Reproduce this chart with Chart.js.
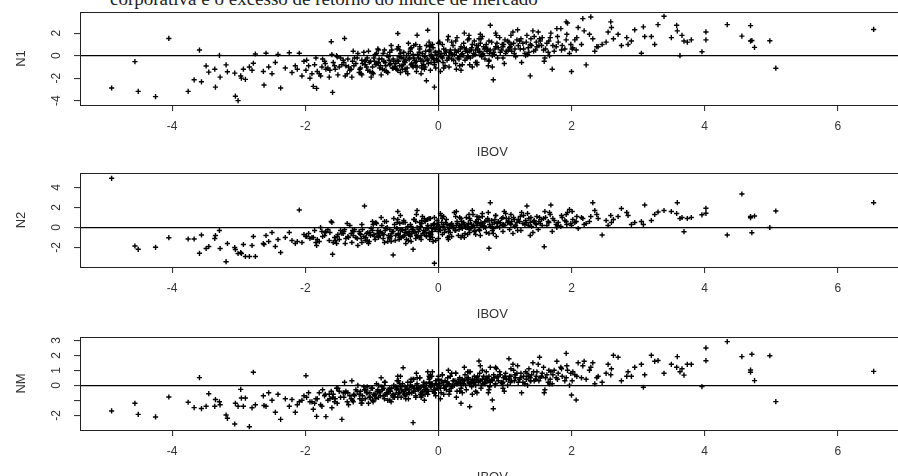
<!DOCTYPE html>
<html>
<head>
<meta charset="utf-8">
<script src="https://cdn.jsdelivr.net/npm/chart.js"></script>
<style>
html, body { margin: 0; padding: 0; background: #fff; overflow: hidden; width: 898px; height: 476px; }
.panel { position: absolute; left: 0; }
#caption { position: absolute; left: 110px; top: -11px; font-size: 19px; line-height: 19px;
  font-family: "Liberation Serif", "DejaVu Serif", serif; color: #222; white-space: nowrap; }
</style>
</head>
<body>
<div id="caption">corporativa e o excesso de retorno do índice de mercado</div>
<canvas id="p1" class="panel" width="910" height="160" style="top:0px"></canvas>
<canvas id="p2" class="panel" width="910" height="162" style="top:160px"></canvas>
<canvas id="p3" class="panel" width="910" height="163" style="top:322px"></canvas>
<script>
// excess return of the market index (shared x of the three panels)
const ibov = [
  -4.91,-4.56,-4.51,-4.25,-4.05,-3.76,-3.67,-3.59,-3.56,-3.49,
  -3.45,-3.36,-3.35,-3.29,-3.28,-3.19,-3.17,-3.06,-3.05,-3.01,
  -2.97,-2.96,-2.9,-2.93,-2.84,-2.8,-2.78,-2.75,-2.62,-2.59,
  -2.63,-2.55,-2.5,-2.45,-2.41,-2.37,-2.3,-2.24,-2.2,-2.15,
  -2.09,-2.05,-1.99,-1.88,-1.83,-1.69,-1.59,-1.61,-1.45,-1.41,
  -1.11,-0.68,-0.61,-0.53,-0.38,-0.32,-0.16,-0.06,-0.18,0.78,
  0.76,0.825,0.47,0.34,0.81,0.61,1.06,1.38,1.33,1.52,
  1.59,1.69,1.71,1.92,1.94,2.0,2.07,2.17,2.29,2.22,
  2.32,2.46,2.59,2.63,2.7,2.83,2.9,3.05,3.08,3.1,
  3.2,3.25,3.3,3.39,3.5,3.58,3.59,3.63,3.66,3.69,
  3.74,3.8,3.96,4.02,4.02,4.34,4.56,4.69,4.71,4.69,
  4.75,4.98,5.07,6.54,
  // dense core
  -1.95,-1.82,-1.74,-1.66,-1.58,-1.51,-1.47,-1.39,-1.33,-1.28,
  -1.24,-1.19,-1.15,-1.12,-1.08,-1.04,-1.01,-0.97,-0.94,-0.91,
  -0.88,-0.85,-0.83,-0.8,-0.78,-0.75,-0.73,-0.7,-0.67,-0.65,
  -0.62,-0.6,-0.58,-0.56,-0.54,-0.52,-0.5,-0.48,-0.46,-0.44,
  -0.42,-0.4,-0.38,-0.36,-0.34,-0.32,-0.3,-0.28,-0.26,-0.24,
  -0.22,-0.2,-0.18,-0.16,-0.14,-0.12,-0.1,-0.08,-0.06,-0.04,
  -0.02,0.0,0.02,0.04,0.06,0.08,0.1,0.12,0.14,0.16,
  0.18,0.2,0.22,0.24,0.26,0.28,0.3,0.32,0.34,0.36,
  0.38,0.4,0.42,0.44,0.46,0.48,0.5,0.52,0.54,0.56,
  0.58,0.6,0.62,0.64,0.66,0.68,0.7,0.72,0.74,0.77,
  0.8,0.83,0.86,0.89,0.92,0.95,0.98,1.01,1.04,1.07,
  1.1,1.13,1.16,1.2,1.24,1.28,1.32,1.36,1.4,1.44,
  1.48,1.53,1.58,1.63,1.68,1.74,1.8,1.86,1.93,2.02,
  -1.9,-1.7,-1.55,-1.43,-1.35,-1.26,-1.17,-1.1,-1.03,-0.96,
  -0.9,-0.84,-0.79,-0.74,-0.69,-0.64,-0.59,-0.55,-0.51,-0.47,
  -0.43,-0.39,-0.35,-0.31,-0.27,-0.23,-0.19,-0.15,-0.11,-0.07,
  -0.03,0.01,0.05,0.09,0.13,0.17,0.21,0.25,0.29,0.33,
  0.37,0.41,0.45,0.49,0.53,0.57,0.61,0.65,0.69,0.73,
  0.78,0.84,0.9,0.96,1.02,1.08,1.15,1.22,1.3,1.38,
  1.46,1.55,1.65,1.77,1.9,2.05,2.15,2.27,2.4,2.52,
  -1.6,-1.3,-1.05,-0.86,-0.71,-0.57,-0.45,-0.33,-0.21,-0.09,
  0.03,0.15,0.27,0.39,0.51,0.63,0.75,0.87,0.99,1.12,
  1.25,1.42,1.6,1.78,1.97,2.1,2.35,2.55,2.75,2.95,
  -1.77,-1.53,-1.37,-1.21,-0.99,-0.81,-0.61,-0.41,-0.25,-0.13,
  -1.98,-1.86,-1.79,-1.71,-1.63,-1.56,-1.49,-1.42,-1.36,-1.31,
  -1.27,-1.22,-1.18,-1.14,-1.09,-1.06,-1.02,-0.99,-0.95,-0.92,
  -0.89,-0.87,-0.82,-0.77,-0.72,-0.68,-0.63,-0.6,-0.57,-0.53,
  -0.49,-0.45,-0.41,-0.37,-0.33,-0.29,-0.25,-0.21,-0.17,-0.13,
  -0.11,-0.09,-0.05,-0.01,0.03,0.07,0.11,0.15,0.19,0.23,
  0.27,0.31,0.35,0.39,0.43,0.47,0.51,0.55,0.59,0.63,
  0.67,0.71,0.76,0.81,0.85,0.88,0.93,0.97,1.0,1.05,
  1.09,1.14,1.18,1.23,1.27,1.31,1.35,1.39,1.43,1.47,
  1.51,1.56,1.61,1.66,1.72,1.79,1.85,1.92,1.99,2.08,
  -1.15,-0.93,-0.76,-0.62,-0.49,-0.37,-0.26,-0.14,-0.04,0.06,
  0.16,0.26,0.36,0.46,0.56,0.66,0.76,0.86,0.97,1.09,
  1.19,1.34,1.5,1.67,1.84,2.01,2.19,2.38,2.6,2.85,
  -2.12,-2.02,-1.93,-1.84,-1.75,-1.64,-1.52,-1.4,-1.29,-1.16,
  -1.07,-0.98,-0.9,-0.81,-0.73,-0.66,-0.58,-0.5,-0.42,-0.34,
  -0.28,-0.2,-0.12,-0.06,0.0,0.08,0.2,0.32,0.44,0.58
];

// excess return, level N1
const n1 = [
  -2.87,-0.53,-3.17,-3.64,1.53,-3.17,-2.14,0.5,-2.32,-0.91,
  -1.46,-1.2,-2.79,0.03,-1.9,-0.82,-1.43,-1.55,-3.6,-3.99,
  -1.8,-1.99,-2.1,-1.2,-1.0,-1.3,-0.67,0.15,-2.61,0.21,
  -1.4,-1.0,-1.6,-0.6,0.12,-2.87,-1.1,0.26,-1.5,-0.9,
  0.21,-1.8,-1.3,-2.73,-2.9,-1.2,-3.26,1.24,-0.8,1.53,
  -0.5,-1.1,1.97,-0.2,-1.0,1.82,2.26,-2.79,-2.22,2.7,
  -0.5,-2.14,-0.8,-1.3,-1.0,1.5,1.2,-1.79,1.8,1.5,
  -0.5,2.0,-1.2,3.0,2.9,-1.41,0.5,3.29,3.44,-0.82,
  1.5,1.0,3.0,1.5,1.9,1.6,1.3,0.21,2.56,1.7,
  1.7,1.0,2.76,3.5,1.6,2.7,2.2,0.0,1.8,1.3,
  1.2,1.4,0.35,2.11,1.4,2.76,1.74,2.67,1.35,1.3,
  0.74,1.32,-1.11,2.33,
  -0.9,-1.4,-0.3,-1.1,-0.6,-1.7,-0.2,-0.9,-1.3,0.4,
  -0.7,-1.5,-0.4,0.3,-1.0,-0.6,-1.9,-0.2,-0.8,0.6,
  -1.1,-0.3,0.2,-0.6,-1.4,-0.1,-0.8,0.5,-0.5,-1.0,
  -0.4,0.8,-0.9,-0.2,-1.2,0.3,-0.6,0.0,-1.6,-0.3,
  0.4,-0.7,0.1,-0.4,1.0,-1.0,-0.2,0.6,-0.5,0.2,
  -0.8,0.0,0.9,-0.3,0.4,-1.3,-0.1,0.7,-0.6,0.3,
  0.1,-0.5,1.2,0.2,-0.2,0.6,-0.9,0.3,1.4,0.0,
  0.5,-0.3,0.9,0.1,-0.7,1.6,0.4,-0.1,0.8,0.2,
  1.1,-0.4,0.6,0.3,1.8,-0.2,0.7,0.0,1.3,0.5,
  -0.6,0.9,0.4,1.5,0.1,0.8,-0.3,1.0,0.6,0.2,
  1.2,0.3,0.8,-0.2,1.6,0.5,1.0,0.2,1.3,0.7,
  0.4,1.1,-0.1,0.9,1.5,0.6,1.2,0.3,0.9,1.7,
  0.8,1.3,0.5,1.1,1.6,0.4,1.2,0.9,1.9,0.7,
  -1.6,-0.7,-1.2,-0.4,-1.0,-0.2,-1.1,-0.8,-1.4,-0.5,
  -0.6,-1.2,-0.9,-0.4,-1.1,-0.7,-0.1,-0.9,-0.5,-1.1,
  -0.2,-0.9,-0.6,0.1,-0.3,-0.5,0.4,-0.7,0.1,-0.3,
  -0.3,0.4,-0.1,0.2,-0.4,0.3,0.1,0.5,-0.2,0.6,
  0.0,0.4,-0.1,0.5,0.2,0.9,0.3,-0.1,0.6,0.4,
  0.5,0.1,0.7,1.0,0.4,0.8,0.6,1.3,0.2,1.0,
  0.5,0.9,0.3,0.8,0.6,1.4,1.0,1.9,0.8,1.2,
  0.1,-1.9,0.4,-1.7,0.9,-1.5,1.1,-1.4,-1.2,1.0,
  -1.4,1.7,-1.2,2.0,-1.0,1.9,-0.9,1.8,-0.7,2.1,
  -0.6,2.2,-0.2,2.4,0.2,2.5,0.4,2.1,0.9,2.3,
  -1.8,0.0,-1.6,0.2,-1.5,0.5,-1.3,0.7,-1.1,0.8,
  -0.4,-0.8,-1.6,-0.5,-1.3,-0.9,-1.0,-0.6,-0.3,-1.2,
  -0.9,-0.2,-1.2,-0.7,-0.4,-1.3,-0.5,-1.0,0.1,-0.7,
  -0.3,-0.9,-0.5,0.0,-0.7,-0.3,-1.2,-0.5,0.2,-0.8,
  -0.4,0.2,-0.8,-0.2,-0.5,0.3,-0.9,-0.1,-0.4,0.5,
  -0.6,-0.2,0.3,-0.4,0.0,-0.6,0.5,-0.2,0.2,-0.4,
  0.3,-0.3,0.1,0.7,-0.2,0.4,1.0,0.1,0.6,1.1,
  0.2,0.7,1.3,0.0,0.6,1.1,0.3,0.8,1.4,0.5,
  1.0,0.2,1.4,0.6,1.1,0.0,0.7,1.5,0.4,1.2,
  0.9,1.6,0.6,1.3,0.9,1.7,0.5,1.4,1.0,1.6,
  -1.7,0.2,-1.5,0.6,-1.4,0.9,-1.6,1.2,-1.1,1.0,
  -1.0,1.3,-0.8,1.5,-0.6,1.7,-0.4,2.0,-0.2,1.8,
  2.3,0.1,2.1,0.0,2.4,0.6,2.2,0.8,2.5,1.0,
  -1.2,-0.5,-2.0,-0.2,-1.0,-1.9,-0.1,-1.8,-0.5,-1.6,
  -0.2,-1.6,0.5,-1.3,0.3,-1.0,0.5,-1.2,0.6,-0.9,
  0.8,-1.0,0.9,-0.8,1.1,-1.1,1.2,-0.9,1.4,-0.8
];

// excess return, level N2
const n2 = [
  4.92,-1.85,-2.18,-1.98,-1.02,-1.15,-1.15,-2.58,-0.75,-2.1,
  -1.9,-1.1,-0.8,-0.3,-2.1,-3.42,-1.6,-2.0,-2.2,-2.6,
  -2.5,-2.6,-2.9,-1.7,-2.9,-1.8,-0.9,-2.9,-1.7,-0.8,
  -1.6,-1.4,-0.5,-1.9,-1.2,-2.5,-1.0,-0.5,-1.3,-1.6,
  1.75,-1.5,-0.9,-1.0,-1.8,-0.4,-2.68,0.6,-0.6,-0.2,
  2.15,-2.75,1.6,0.5,-2.18,1.7,0.8,-3.58,-0.8,2.48,
  -2.08,-0.6,-0.5,-1.0,-0.3,1.0,0.9,-0.8,2.15,1.0,
  -1.92,2.25,-0.4,1.3,1.5,0.2,0.6,0.9,1.1,0.4,
  2.48,-0.75,1.2,0.8,1.1,1.5,0.3,0.6,0.3,2.25,
  0.7,1.3,1.55,1.7,1.6,1.4,2.48,0.9,1.0,-0.42,
  0.9,1.0,1.27,1.92,1.42,-0.75,3.35,0.98,-0.52,1.1,
  1.15,0.0,1.65,2.48,
  -0.6,-1.2,-0.9,-0.2,-1.5,-0.7,-0.3,-1.1,0.2,-0.8,
  -1.0,-0.4,0.3,-0.9,-0.6,-1.4,-0.1,-0.7,0.5,-0.3,
  -0.5,0.2,-1.1,-0.3,0.6,-0.8,-0.2,-0.6,0.9,-1.3,
  -0.1,-0.7,0.4,-1.0,-0.3,0.7,-0.5,-1.2,0.1,-0.4,
  0.3,-0.6,-0.2,0.8,-1.1,0.0,-0.4,0.5,-0.8,1.1,
  -0.3,0.6,-0.9,0.2,-0.5,0.9,-0.1,-1.4,0.4,-0.2,
  0.7,-0.4,0.1,1.2,-0.7,0.3,-0.2,0.8,-1.0,0.2,
  -0.5,0.4,0.0,1.5,-0.3,0.6,-0.8,0.2,0.9,-0.1,
  0.5,-0.6,1.0,0.1,-0.2,0.7,0.3,1.3,-0.4,0.6,
  0.2,0.8,-0.3,0.5,1.1,0.0,0.6,-0.5,0.9,0.3,
  0.7,-0.1,1.2,0.4,0.0,0.9,0.3,1.4,0.5,-0.2,
  0.6,1.0,0.2,0.8,-0.3,1.2,0.5,0.9,0.1,0.7,
  1.1,0.4,0.9,0.2,1.3,0.7,0.5,1.0,0.3,0.8,
  -1.0,-0.5,-1.3,-0.6,-1.0,-0.2,-0.7,-1.3,-0.5,-0.9,
  -0.9,-0.6,-0.1,-1.0,-0.4,-0.8,-1.2,-0.2,-0.8,-0.6,
  -0.7,-0.2,-0.5,-0.9,0.1,-0.6,-0.3,0.0,-0.7,0.3,
  0.0,-0.2,0.5,-0.5,0.3,-0.1,0.2,-0.3,0.4,0.1,
  0.3,0.0,0.4,-0.1,0.2,0.5,-0.2,0.3,0.1,0.7,
  0.1,0.5,0.6,0.2,0.9,0.4,0.1,0.6,0.3,0.5,
  0.4,0.8,0.6,0.3,0.7,0.5,1.0,0.6,0.9,0.7,
  0.5,-1.5,-1.6,1.0,-1.4,1.2,-1.3,1.3,0.9,-1.0,
  1.4,-1.2,1.6,-1.0,1.7,-0.8,1.5,-0.9,1.6,-0.6,
  1.5,-0.5,1.6,0.0,1.8,-0.1,1.7,0.2,1.9,0.5,
  0.0,-1.6,0.4,-1.8,0.6,-1.5,0.8,-1.4,0.7,-1.2,
  -0.9,-0.3,-1.4,-0.8,-0.5,-1.0,-1.2,-0.4,-0.9,-0.6,
  -0.4,-1.1,-0.6,-0.2,-1.0,-0.5,-0.8,-0.3,-1.2,-0.6,
  -0.8,-0.4,-0.7,0.0,-0.9,-0.4,-0.1,-0.6,-0.3,-0.9,
  -0.2,-0.6,0.1,-0.4,-0.8,-0.2,0.4,-0.5,-0.1,-0.6,
  0.2,-0.4,-0.1,0.3,-0.3,0.1,0.5,-0.4,0.3,0.0,
  0.2,-0.2,0.6,0.3,0.0,0.9,0.1,-0.3,0.4,0.2,
  0.4,0.0,0.7,0.3,0.8,0.1,0.5,1.0,0.2,0.6,
  0.3,0.8,0.5,1.1,0.4,0.7,0.2,1.0,0.6,0.3,
  0.6,0.2,1.0,0.5,0.9,0.2,1.2,0.6,0.4,1.1,
  -1.5,0.4,-1.4,0.5,-1.6,0.8,-1.2,0.9,-1.3,0.9,
  -0.9,1.1,-0.8,1.3,-0.7,1.4,-0.6,1.2,-0.4,1.3,
  -0.3,1.4,-0.2,1.5,0.1,1.6,0.3,1.3,0.5,1.2,
  -1.4,-0.7,-1.1,-1.5,-0.4,-1.3,-0.9,-1.6,-0.3,-1.1,
  -1.3,0.3,-1.0,0.6,-1.1,0.3,-1.0,0.5,-0.9,0.6,
  -1.0,0.7,-0.9,1.0,-1.1,1.1,-0.9,1.0,-0.7,1.1
];

// excess return, Novo Mercado
const nm = [
  -1.71,-1.2,-1.94,-2.11,-0.78,-1.13,-1.49,0.51,-1.55,-1.4,
  -0.56,-1.4,-0.95,-1.1,-1.3,-1.98,-2.2,-2.58,-1.2,-1.4,
  -0.27,-0.85,-0.85,-1.4,-2.76,-1.5,0.87,-1.3,-1.35,-1.4,
  -0.7,-0.5,-1.0,-1.8,-0.6,-2.27,-0.9,-1.4,-0.95,-1.8,
  -1.1,-1.0,0.64,-1.6,-2.07,-2.09,-0.8,-0.4,-2.27,0.2,
  -0.3,-0.6,0.6,1.17,-2.49,0.5,0.9,-0.5,-0.4,1.2,
  0.3,-1.56,-1.43,-1.2,-0.98,1.62,1.77,0.3,0.8,1.87,
  -0.5,0.9,0.1,2.13,1.0,-0.65,-0.98,1.3,1.2,0.4,
  1.5,0.2,0.7,2.0,1.87,0.6,0.6,1.4,-0.13,0.7,
  2.0,1.6,1.65,0.8,1.4,1.2,1.91,0.9,1.1,0.68,
  1.4,1.4,-0.09,2.49,1.64,2.91,1.91,1.02,2.07,0.87,
  0.31,1.97,-1.09,0.93,
  -0.5,-0.9,-0.3,-1.0,-0.6,-0.2,-0.8,-0.4,-0.7,-1.1,
  -0.3,-0.6,-1.2,-0.1,-0.5,-0.8,-0.2,-0.6,-0.9,-0.3,
  -0.4,-0.1,-0.7,0.2,-0.5,-0.3,-1.0,-0.2,0.0,-0.6,
  -0.2,0.3,-0.5,-0.8,0.1,-0.4,-0.1,-0.6,0.2,-0.3,
  0.0,-0.5,0.4,-0.2,-0.7,0.1,-0.3,0.5,-0.1,-0.4,
  0.2,-0.3,0.1,-0.6,0.4,-0.1,0.6,-0.4,0.0,0.3,
  -0.2,0.4,0.1,-0.5,0.7,0.0,0.3,-0.3,0.5,0.1,
  0.6,-0.1,0.3,0.0,0.8,-0.4,0.2,0.5,-0.2,0.4,
  0.1,0.7,-0.3,0.4,0.2,0.9,-0.1,0.3,0.6,0.0,
  0.5,0.2,0.8,-0.2,0.4,0.6,0.1,0.9,0.3,-0.1,
  0.4,0.7,0.1,0.6,0.9,0.2,0.5,0.8,0.0,0.6,
  0.3,1.0,0.5,0.2,0.8,0.6,0.4,1.1,0.7,0.3,
  0.9,0.5,1.2,0.7,0.4,1.0,0.8,0.6,1.3,0.9,
  -1.1,-0.6,-0.9,-0.5,-1.3,-0.7,-0.4,-0.9,-0.5,-0.7,
  -0.8,-0.3,-0.6,-0.4,-0.7,-0.1,-0.5,-0.3,-0.6,-0.2,
  -0.5,-0.1,-0.4,-0.2,-0.6,0.0,-0.2,-0.4,0.1,-0.3,
  0.1,-0.1,0.3,-0.2,0.2,-0.4,0.0,0.3,0.1,0.2,
  0.3,0.0,0.5,0.2,0.1,0.4,0.3,0.0,0.2,0.5,
  0.2,0.5,0.3,0.1,0.4,0.2,0.7,0.4,0.1,0.5,
  0.4,0.6,0.2,0.5,0.3,0.7,0.5,1.0,0.6,0.8,
  -1.5,0.3,-1.2,0.5,-1.1,0.6,-0.9,0.8,-1.0,0.9,
  -0.9,1.0,-0.8,1.2,-0.6,1.3,-0.5,1.1,-0.4,1.4,
  -0.5,1.5,-0.3,1.6,0.0,1.5,0.1,1.4,0.3,1.2,
  -1.3,-0.2,-1.1,0.0,-1.0,0.2,-0.8,0.4,-0.7,0.5,
  -0.8,-1.2,-0.5,-0.7,-0.9,-1.1,-0.4,-0.8,-0.5,-0.9,
  -0.6,-0.4,-0.9,-0.7,-0.3,-0.5,-0.8,-0.2,-0.6,-0.4,
  -0.5,-0.7,-0.2,-0.6,-0.4,-0.8,-0.3,-0.5,-0.1,-0.4,
  -0.3,-0.5,-0.1,-0.4,0.0,-0.2,-0.5,-0.1,-0.3,0.2,
  -0.1,0.1,-0.3,0.0,-0.2,0.2,-0.1,0.1,-0.2,0.3,
  0.1,0.4,0.0,0.3,0.5,0.1,0.4,0.2,0.6,0.3,
  0.1,0.4,0.6,0.3,0.0,0.5,0.7,0.2,0.6,0.4,
  0.6,0.3,0.8,0.5,0.2,0.9,0.6,0.3,0.9,0.6,
  0.3,0.8,0.5,1.0,0.7,0.4,1.1,0.5,0.8,0.6,
  -1.0,0.1,-1.0,0.3,-0.9,0.4,-0.8,0.6,-0.7,0.7,
  -0.6,0.8,-0.5,0.9,-0.4,1.0,-0.3,1.2,-0.2,1.1,
  1.3,0.0,1.4,0.1,1.2,0.3,1.6,0.5,1.1,0.9,
  -1.3,-0.7,-1.1,-0.9,-1.4,-0.6,-1.2,-0.5,-1.0,-1.2,
  -0.1,-1.1,0.0,-0.9,-0.2,-0.8,0.1,-0.7,0.2,-0.8,
  0.5,-0.6,0.7,-0.5,0.6,-0.6,0.8,-0.4,0.9,-0.5
];

// axes
const xTicks = [-4, -2, 0, 2, 4, 6];
const n1Ticks = [-4, -2, 0, 2];
const n2Ticks = [-2, 0, 2, 4];
const nmTicks = [-2, -1, 0, 1, 2, 3];
const nmTickLabels = ['-2', '', '0', '1', '2', '3'];

const FONT = '"Liberation Sans", Arial, Helvetica, sans-serif';
const INK = '#333';

// R-like box and rotated y tick labels
const rFrame = {
  id: 'rFrame',
  afterDraw(chart, args, opts) {
    const {ctx, chartArea: a} = chart;
    const y = chart.scales.y;
    ctx.save();
    ctx.strokeStyle = '#222';
    ctx.lineWidth = 1;
    ctx.strokeRect(Math.round(a.left) + 0.5, Math.round(a.top) + 0.5, a.right - a.left, a.bottom - a.top);
    ctx.fillStyle = INK;
    ctx.font = '12px ' + FONT;
    ctx.textAlign = 'center';
    ctx.textBaseline = 'middle';
    y.ticks.forEach((t, i) => {
      const lbl = opts.labels[i];
      if (!lbl) return;
      ctx.save();
      ctx.translate(a.left - 23, y.getPixelForValue(t.value));
      ctx.rotate(-Math.PI / 2);
      ctx.fillText(lbl, 0, 0);
      ctx.restore();
    });
    ctx.restore();
  }
};

const zeroGrid = c => (c.tick && c.tick.value === 0) ? '#000' : 'rgba(0,0,0,0)';

function makePanel(id, name, values, yMin, yMax, ticks, labels, padTop) {
  const pts = ibov.map((x, i) => ({x: x, y: values[i]}));
  new Chart(document.getElementById(id), {
    type: 'scatter',
    data: {
      datasets: [{
        data: pts,
        pointStyle: 'cross',
        radius: 2.6,
        borderWidth: 1.4,
        borderColor: '#000',
        backgroundColor: '#000'
      }]
    },
    options: {
      responsive: false,
      animation: false,
      events: [],
      layout: {padding: {top: padTop, right: 4, left: 0, bottom: 0}},
      plugins: {
        legend: {display: false},
        tooltip: {enabled: false},
        rFrame: {labels: labels}
      },
      scales: {
        x: {
          type: 'linear', min: -5.385, max: 7.005,
          afterBuildTicks: s => { s.ticks = xTicks.map(v => ({value: v})) },
          afterFit: s => { s.height = 55 },
          border: {display: false},
          grid: {color: zeroGrid, lineWidth: 1.2, tickColor: '#222', tickWidth: 1, tickLength: 6},
          ticks: {color: INK, font: {family: FONT, size: 12}, padding: 8, maxRotation: 0, autoSkip: false},
          title: {display: true, text: 'IBOV', color: INK, font: {family: FONT, size: 13}, padding: {top: 0, bottom: 0}}
        },
        y: {
          type: 'linear', min: yMin, max: yMax,
          afterBuildTicks: s => { s.ticks = ticks.map(v => ({value: v})) },
          afterFit: s => { s.width = 80 },
          border: {display: false},
          grid: {color: zeroGrid, lineWidth: 1.2, tickColor: '#222', tickWidth: 1, tickLength: 6},
          ticks: {display: false},
          title: {display: true, text: name, color: INK, font: {family: FONT, size: 13}, padding: {top: 14, bottom: 0}}
        }
      }
    },
    plugins: [rFrame]
  });
}

makePanel('p1', 'N1', n1, -4.38, 3.88, n1Ticks, n1Ticks.map(String), 12);
makePanel('p2', 'N2', n2, -3.95, 5.45, n2Ticks, n2Ticks.map(String), 13);
makePanel('p3', 'NM', nm, -2.98, 3.22, nmTicks, nmTickLabels, 15);
</script>
</body>
</html>
